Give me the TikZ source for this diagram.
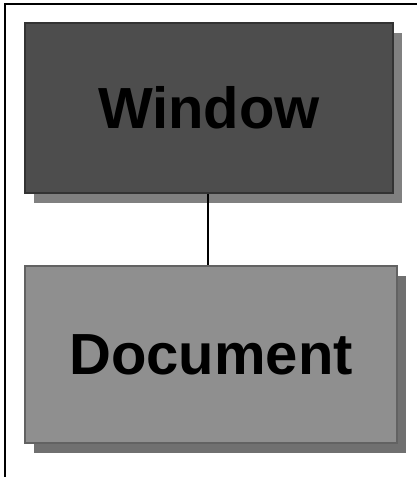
\documentclass[tikz,border=0pt]{standalone}
\usepackage{fontspec}
\setmainfont{Liberation Sans}
\usetikzlibrary{shadows}
\definecolor{winfill}{HTML}{4D4D4D}
\definecolor{winborder}{HTML}{333333}
\definecolor{winshadow}{HTML}{808080}
\definecolor{docfill}{HTML}{8F8F8F}
\definecolor{docborder}{HTML}{626262}
\definecolor{docshadow}{HTML}{707070}
\tikzset{
  box/.style={rectangle, line width=1.5pt, inner sep=0pt,
    font=\fontsize{58}{60}\selectfont\bfseries, text=black},
  frameline/.style={line width=2pt, black},
  link/.style={line width=2.8pt, black}
}
\begin{document}
\begin{tikzpicture}[x=1pt,y=-1pt]
\useasboundingbox (0,0) rectangle (417,477);
\coordinate (ftl) at (5,4);
\coordinate (ftr) at (417,4);
\coordinate (fbl) at (5,477);
\draw[frameline] (ftr) -- (ftl) -- (fbl);
\node[box, fill=winfill, draw=winborder, minimum width=368pt, minimum height=170pt,
  drop shadow={shadow xshift=9pt, shadow yshift=-10pt, fill=winshadow, opacity=1}]
  (window) at (209,108) {Window};
\node[box, fill=docfill, draw=docborder, minimum width=372pt, minimum height=177pt,
  drop shadow={shadow xshift=9pt, shadow yshift=-10pt, fill=docshadow, opacity=1}]
  (document) at (211,354.5) {Document};
\draw[link] ([xshift=-1pt]window.south) -- ([xshift=-1pt]window.south |- document.north);
\end{tikzpicture}
\end{document}
